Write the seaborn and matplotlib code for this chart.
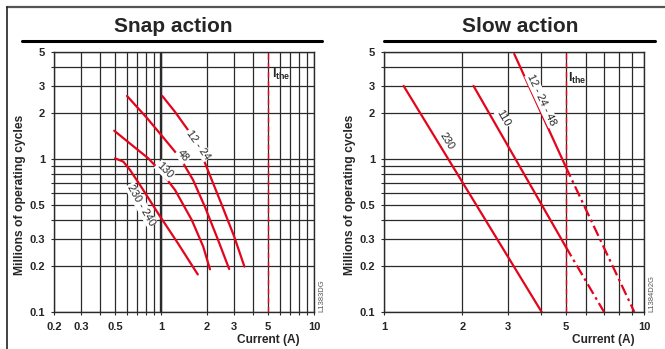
import numpy as np
import pandas as pd
import matplotlib
matplotlib.use("Agg")
import matplotlib.pyplot as plt
from matplotlib.lines import Line2D
from matplotlib.ticker import FixedLocator, NullFormatter
import seaborn as sns

sns.set_theme(style="white")
plt.rcParams['font.family'] = ['Liberation Sans', 'DejaVu Sans']
plt.rcParams['mathtext.fontset'] = 'custom'
plt.rcParams['mathtext.bf'] = 'Liberation Sans:bold'
plt.rcParams['mathtext.rm'] = 'Liberation Sans'

RED = '#e3051b'
GRID = '#2a2a2a'

# Snap action curves (current A, millions of cycles)
snap_12_24_x = [1.02, 1.236, 1.55, 1.94, 2.47, 3.0, 3.51]
snap_12_24_y = [2.58, 2.03, 1.48, 0.94, 0.515, 0.314, 0.198]
snap_48_x = [0.60, 0.811, 1.03, 1.33, 1.62, 1.94, 2.36, 2.79]
snap_48_y = [2.58, 1.85, 1.39, 1.02, 0.73, 0.485, 0.296, 0.191]
snap_130_x = [0.495, 0.644, 0.826, 1.016, 1.236, 1.59, 1.89, 2.09]
snap_130_y = [1.53, 1.235, 1.01, 0.81, 0.627, 0.399, 0.267, 0.19]
snap_230_x = [0.501, 0.568, 0.628, 0.752, 0.962, 1.30, 1.74]
snap_230_y = [1.01, 0.96, 0.847, 0.645, 0.438, 0.278, 0.176]

# Slow action lines: solid part, then dash-dot part beyond I_the
slow_230_x = [1.19, 4.04]
slow_230_y = [3.0, 0.1]
slow_110_x = [2.21, 5.0]
slow_110_y = [3.0, 0.267]
slow_110_ext_x = [5.0, 7.02]
slow_110_ext_y = [0.267, 0.1]
slow_12_48_x = [3.17, 5.0]
slow_12_48_y = [4.85, 0.89]
slow_12_48_ext_x = [5.0, 9.18]
slow_12_48_ext_y = [0.89, 0.1]

i_the = 5

y_ticks = [0.1, 0.2, 0.3, 0.5, 1, 2, 3, 5]
y_tick_labels = ['0.1', '0.2', '0.3', '0.5', '1', '2', '3', '5']
y_grid = [0.1, 0.2, 0.3, 0.4, 0.5, 0.6, 0.7, 0.8, 0.9, 1, 2, 3, 4, 5]

snap_x_ticks = [0.2, 0.3, 0.5, 1, 2, 3, 5, 10]
snap_x_labels = ['0.2', '0.3', '0.5', '1', '2', '3', '5', '10']
snap_x_grid = [0.2, 0.3, 0.4, 0.5, 0.6, 0.7, 0.8, 0.9, 1, 2, 3, 4, 5, 6, 7, 8, 9, 10]

slow_x_ticks = [1, 2, 3, 5, 10]
slow_x_labels = ['1', '2', '3', '5', '10']
slow_x_grid = [1, 2, 3, 4, 5, 6, 7, 8, 9, 10]

W, H = 665, 349
fig = plt.figure(figsize=(W / 100, H / 100), dpi=100)
fig.patch.set_facecolor('white')

ax1 = fig.add_axes([54 / W, 37 / H, 260 / W, 260 / H])
ax2 = fig.add_axes([384 / W, 37 / H, 260 / W, 260 / H])


def draw(ax, x, y, ls='-'):
    df = pd.DataFrame({'x': x, 'y': y})
    sns.lineplot(data=df, x='x', y='y', ax=ax, color=RED, lw=1.6,
                 linestyle=ls, estimator=None, sort=False)
    ax.set_xlabel('')
    ax.set_ylabel('')


def setup(ax, xlim, xticks, xlabels, xgrid, code):
    ax.set_xscale('log')
    ax.set_yscale('log')
    ax.set_xlim(*xlim)
    ax.set_ylim(0.1, 5)
    for g in xgrid:
        ax.axvline(g, color=GRID, lw=0.9, zorder=1)
    for g in y_grid:
        ax.axhline(g, color=GRID, lw=0.9, zorder=1)
    ax.xaxis.set_major_locator(FixedLocator(xticks))
    ax.set_xticklabels(xlabels)
    ax.xaxis.set_minor_locator(FixedLocator(xgrid))
    ax.xaxis.set_minor_formatter(NullFormatter())
    ax.yaxis.set_major_locator(FixedLocator(y_ticks))
    ax.set_yticklabels(y_tick_labels)
    ax.yaxis.set_minor_locator(FixedLocator(y_grid))
    ax.yaxis.set_minor_formatter(NullFormatter())
    ax.tick_params(which='both', direction='out', length=2.5, width=0.8,
                   color=GRID, bottom=True, left=True)
    ax.tick_params(axis='x', which='major', pad=5, labelsize=8)
    ax.tick_params(axis='y', which='major', pad=4, labelsize=8)
    for lab in ax.get_xticklabels() + ax.get_yticklabels():
        lab.set_fontweight('bold')
    for s in ax.spines.values():
        s.set_color(GRID)
        s.set_linewidth(1.0)
    ax.axvline(i_the, color=RED, lw=1.0, ls=(0, (4, 2.5)), zorder=3)
    ax.text(-0.131, 0.45, 'Millions of operating cycles', transform=ax.transAxes,
            rotation=90, ha='center', va='center', fontsize=8.7, fontweight='bold')
    ax.text(1.03, 0.0, code, transform=ax.transAxes, rotation=90, ha='center',
            va='bottom', fontsize=5.5, color='#555555')


def curve_label(ax, x, y, s, rot):
    ax.text(x, y, s, rotation=rot, ha='center', va='center', fontsize=7.8,
            rotation_mode='anchor', zorder=5,
            bbox=dict(facecolor='white', edgecolor='none', pad=0.6))


# Snap action
setup(ax1, (0.2, 10), snap_x_ticks, snap_x_labels, snap_x_grid, 'L1383DG')
ax1.axvline(1, color=GRID, lw=1.7, zorder=1)
draw(ax1, snap_12_24_x, snap_12_24_y)
draw(ax1, snap_48_x, snap_48_y)
draw(ax1, snap_130_x, snap_130_y)
draw(ax1, snap_230_x, snap_230_y)
curve_label(ax1, 1.75, 1.24, '12 - 24', -55)
curve_label(ax1, 1.39, 1.05, '48', -50)
curve_label(ax1, 1.06, 0.84, '130', -45)
curve_label(ax1, 0.74, 0.5, '230 - 240', -60)
ax1.text(5.35, 3.55, r'$\mathbf{I}_{\mathbf{the}}$', fontsize=9, ha='left', va='center')
ax1.text(0.946, -0.108, 'Current (A)', transform=ax1.transAxes, ha='right',
         va='center', fontsize=8.6, fontweight='bold')

# Slow action
setup(ax2, (1, 10), slow_x_ticks, slow_x_labels, slow_x_grid, 'L1384D2G')
draw(ax2, slow_230_x, slow_230_y)
draw(ax2, slow_110_x, slow_110_y)
draw(ax2, slow_110_ext_x, slow_110_ext_y, ls=(0, (5, 1.8, 1.2, 1.8)))
draw(ax2, slow_12_48_x, slow_12_48_y)
draw(ax2, slow_12_48_ext_x, slow_12_48_ext_y, ls=(0, (5, 1.8, 1.2, 1.8)))
curve_label(ax2, 1.74, 1.30, '230', -58)
curve_label(ax2, 2.88, 1.85, '110', -60)
curve_label(ax2, 4.04, 2.43, '12 - 24 - 48', -65)
ax2.text(5.08, 3.35, r'$\mathbf{I}_{\mathbf{the}}$', fontsize=9, ha='left', va='center')
ax2.text(0.965, -0.108, 'Current (A)', transform=ax2.transAxes, ha='right',
         va='center', fontsize=8.6, fontweight='bold')

# Titles and frame
fig.text(173 / W, 1 - 32 / H, 'Snap action', ha='center', va='baseline',
         fontsize=15, fontweight='bold')
fig.text(520 / W, 1 - 32 / H, 'Slow action', ha='center', va='baseline',
         fontsize=15, fontweight='bold')
fig.add_artist(Line2D([22 / W, 322 / W], [1 - 41 / H, 1 - 41 / H],
                      transform=fig.transFigure, color='black', lw=2.2))
fig.add_artist(Line2D([384 / W, 655 / W], [1 - 41 / H, 1 - 41 / H],
                      transform=fig.transFigure, color='black', lw=2.2))
fig.add_artist(Line2D([7 / W, 1], [1 - 6.5 / H, 1 - 6.5 / H],
                      transform=fig.transFigure, color='#555555', lw=1.6))
fig.add_artist(Line2D([7 / W, 7 / W], [0, 1 - 6.5 / H],
                      transform=fig.transFigure, color='#222222', lw=1.2))

fig.savefig('out.png', dpi=100)
